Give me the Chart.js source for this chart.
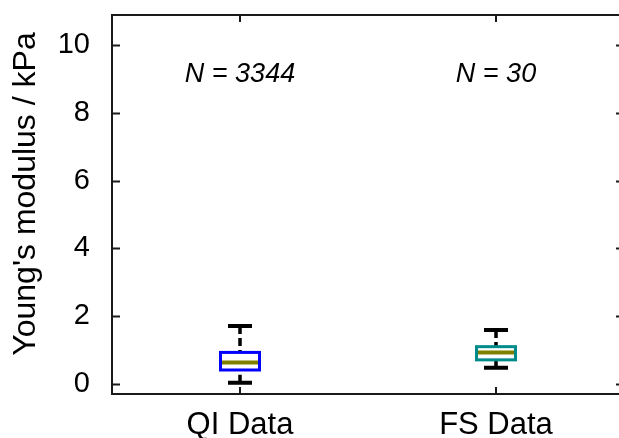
<!DOCTYPE html>
<html>
<head>
<meta charset="utf-8">
<script src="https://cdn.jsdelivr.net/npm/chart.js@4"></script>
<style>
  html, body { margin: 0; padding: 0; background: #fff; overflow: hidden; }
  #wrap { width: 619px; height: 438px; overflow: hidden; }
  canvas { display: block; }
</style>
</head>
<body>
<div id="wrap"><canvas id="c" width="630" height="438"></canvas></div>
<script>
// Young's modulus summary per measurement mode (kPa)
const categories = ['QI Data', 'FS Data'];
const whiskerLow = [0.02, 0.47];
const quartile1 = [0.40, 0.70];
const medians = [0.62, 0.92];
const quartile3 = [0.92, 1.09];
const whiskerHigh = [1.70, 1.58];
const sampleCounts = ['N = 3344', 'N = 30'];
const boxColors = ['#0000ff', '#008b8b'];
const yTicks = [0, 2, 4, 6, 8, 10];
const yMin = -0.31;
const yMax = 10.9;
const countLabelY = 9.13;
const yTitle = "Young's modulus / kPa";

const FONT = '"Liberation Sans", Arial, Helvetica, sans-serif';
const AXIS = '#1a1a1a';

// Frame, inward ticks, whiskers, box outlines, medians, sample counts and axis title
const boxPlot = {
  id: 'boxPlot',
  beforeDatasetsDraw(chart) {
    const { ctx } = chart;
    const x = chart.scales.x, y = chart.scales.y;
    ctx.save();
    ctx.strokeStyle = '#000';
    categories.forEach((c, i) => {
      const px = x.getPixelForValue(i);
      const capHalf = 12;
      // whisker stems (dashed)
      ctx.lineWidth = 3.5;
      ctx.setLineDash([8, 4]);
      ctx.beginPath();
      ctx.moveTo(px, y.getPixelForValue(whiskerHigh[i]));
      ctx.lineTo(px, y.getPixelForValue(quartile3[i]));
      ctx.moveTo(px, y.getPixelForValue(whiskerLow[i]));
      ctx.lineTo(px, y.getPixelForValue(quartile1[i]));
      ctx.stroke();
      ctx.setLineDash([]);
      // caps
      ctx.lineWidth = 4;
      ctx.beginPath();
      [whiskerHigh[i], whiskerLow[i]].forEach(v => {
        const py = y.getPixelForValue(v);
        ctx.moveTo(px - capHalf, py);
        ctx.lineTo(px + capHalf, py);
      });
      ctx.stroke();
    });
    ctx.restore();
  },
  afterDatasetsDraw(chart) {
    const { ctx, chartArea: a } = chart;
    const x = chart.scales.x, y = chart.scales.y;
    const meta = chart.getDatasetMeta(0);
    ctx.save();
    meta.data.forEach((bar, i) => {
      const p = bar.getProps(['x', 'y', 'base', 'width'], true);
      const left = p.x - p.width / 2, right = p.x + p.width / 2;
      const top = Math.min(p.y, p.base), bottom = Math.max(p.y, p.base);
      // median
      ctx.strokeStyle = '#808000';
      ctx.lineWidth = 4;
      const my = y.getPixelForValue(medians[i]);
      ctx.beginPath();
      ctx.moveTo(left + 1.5, my);
      ctx.lineTo(right - 1.5, my);
      ctx.stroke();
      // box outline centred on the quartiles
      ctx.strokeStyle = boxColors[i];
      ctx.lineWidth = 3;
      ctx.strokeRect(left, top, right - left, bottom - top);
    });

    // frame
    ctx.strokeStyle = AXIS;
    ctx.lineWidth = 2;
    ctx.strokeRect(a.left, a.top, a.right - a.left, a.bottom - a.top);

    // inward ticks on all four sides
    ctx.lineWidth = 2;
    ctx.beginPath();
    yTicks.forEach(v => {
      const py = Math.round(y.getPixelForValue(v)) + 0.5;
      ctx.moveTo(a.left, py); ctx.lineTo(a.left + 8, py);
      ctx.moveTo(a.right, py); ctx.lineTo(a.right - 8, py);
    });
    categories.forEach((c, i) => {
      const px = Math.round(x.getPixelForValue(i));
      ctx.moveTo(px, a.bottom); ctx.lineTo(px, a.bottom - 7);
      ctx.moveTo(px, a.top); ctx.lineTo(px, a.top + 7);
    });
    ctx.stroke();

    // sample counts
    ctx.fillStyle = '#000';
    ctx.font = 'italic 27px ' + FONT;
    ctx.textAlign = 'center';
    ctx.textBaseline = 'middle';
    sampleCounts.forEach((t, i) => {
      ctx.fillText(t, x.getPixelForValue(i), y.getPixelForValue(countLabelY));
    });

    // y axis title, rotated
    ctx.translate(26, 194);
    ctx.rotate(-Math.PI / 2);
    ctx.font = '32px ' + FONT;
    ctx.fillText(yTitle, 0, 0);
    ctx.restore();
  }
};

new Chart(document.getElementById('c'), {
  type: 'bar',
  data: {
    labels: categories,
    datasets: [{
      data: categories.map((c, i) => [quartile1[i], quartile3[i]]),
      backgroundColor: '#ffffff',
      borderWidth: 0,
      barThickness: 39,
      inflateAmount: 0
    }]
  },
  options: {
    responsive: false,
    animation: false,
    devicePixelRatio: 1,
    layout: { padding: { top: 15, right: 6, left: 0, bottom: 0 } },
    plugins: { legend: { display: false }, tooltip: { enabled: false } },
    scales: {
      x: {
        type: 'category',
        offset: true,
        grid: { display: false, drawTicks: false },
        border: { display: false },
        ticks: { color: '#000', padding: 13, font: { family: FONT, size: 31 } },
        afterFit(s) {
          s.height = 44;
          s.paddingLeft = 0; s.paddingRight = 0;
        }
      },
      y: {
        min: yMin,
        max: yMax,
        grid: { display: false, drawTicks: false },
        border: { display: false },
        ticks: { color: '#000', padding: 22, font: { family: FONT, size: 29 } },
        afterBuildTicks(s) { s.ticks = yTicks.map(v => ({ value: v })); },
        afterFit(s) {
          s.width = 112;
          s.paddingTop = 0; s.paddingBottom = 0;
        }
      }
    }
  },
  plugins: [boxPlot]
});
</script>
</body>
</html>
